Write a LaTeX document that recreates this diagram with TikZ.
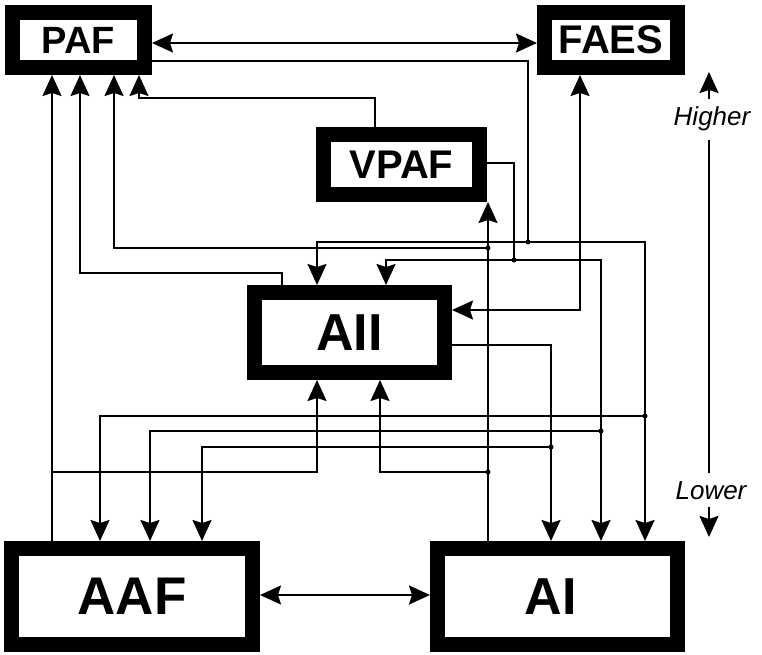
\documentclass[tikz,border=0pt]{standalone}
\usepackage{fontspec}
\setmainfont{Liberation Sans}
\usetikzlibrary{arrows.meta,calc}
\begin{document}
\begin{tikzpicture}[x=1pt,y=-1pt,
  box/.style={draw=black,line width=15pt,fill=white,inner sep=0pt,outer sep=7.5pt},
  wire/.style={line width=2pt,line join=miter},
  arr/.style={wire,-{Stealth[length=21pt,width=19pt,inset=3pt]}},
  darr/.style={wire,{Stealth[length=21pt,width=19pt,inset=3pt]}-{Stealth[length=21pt,width=19pt,inset=3pt]}},
  jdot/.style={circle,fill=black,inner sep=0pt,minimum size=5pt},
  lvl/.style={font=\fontsize{26}{28}\selectfont\itshape,inner sep=8pt,anchor=base}]
\fill[white] (0,0) rectangle (762,655);
\useasboundingbox (0,0) rectangle (762,655);

% boxes
\node[box,minimum width=132pt,minimum height=55pt,font=\fontsize{38}{40}\selectfont\bfseries] (PAF) at (78.5,40) {PAF};
\node[box,minimum width=133pt,minimum height=55pt,font=\fontsize{40}{42}\selectfont\bfseries] (FAES) at (611,40) {FAES};
\node[box,minimum width=156pt,minimum height=60pt,font=\fontsize{40}{42}\selectfont\bfseries] (VPAF) at (401.5,164.5) {VPAF};
\node[box,minimum width=190pt,minimum height=80pt,font=\fontsize{52}{54}\selectfont\bfseries] (AII) at (349.5,332.5) {AII};
\node[box,minimum width=241pt,minimum height=96pt,font=\fontsize{53}{55}\selectfont\bfseries] (AAF) at (132,596.5) {AAF};
\node[box,minimum width=240pt,minimum height=96pt,font=\fontsize{52}{54}\selectfont\bfseries] (AI) at (557.5,596.5) {\hspace*{-14pt}AI};

% level labels
\node[lvl] (hi) at (712,126) {Higher};
\node[lvl] (lo) at (711,499) {Lower};
\coordinate (hiTip) at (709,72);
\coordinate (loTip) at (709,537);
\draw[arr] (hi.north -| hiTip) -- (hiTip);
\draw[wire] (hi.south -| hiTip) -- (lo.north -| hiTip);
\draw[arr] (lo.south -| hiTip) -- (loTip);

% junctions
\coordinate (J1) at (528,242);
\coordinate (J2) at (645,416);
\coordinate (J3) at (514,260);
\coordinate (J4) at (601,431);
\coordinate (J5) at (488,248);
\coordinate (J6) at (488,472);
\coordinate (J7) at (52,472);
\coordinate (J8) at (551,447);

% PAF <-> FAES
\draw[darr] (PAF.east |- 0,43) -- (FAES.west |- 0,43);

% PAF -> AII, AI, AAF
\draw[wire] (PAF.east |- 0,61) -| (J1);
\draw[arr] (J1) -| (317,0 |- AII.north);
\draw[arr] (J1) -| (645,0 |- AI.north);
\draw[arr] (J2) -| (100,0 |- AAF.north);

% FAES <-> AII
\draw[darr] (580,0 |- FAES.south) |- (AII.east |- 0,310);

% VPAF -> PAF
\draw[arr] (375,0 |- VPAF.north) |- (139,98) -- (139,0 |- PAF.south);

% VPAF -> AII, AI, AAF
\draw[wire] (VPAF.east |- 0,163) -| (J3);
\draw[arr] (J3) -| (386,0 |- AII.north);
\draw[arr] (J3) -| (601,0 |- AI.north);
\draw[arr] (J4) -| (150,0 |- AAF.north);

% AI -> VPAF, PAF, AII
\draw[arr] (488,0 |- AI.north) -- (488,0 |- VPAF.south);
\draw[arr] (J5) -| (114,0 |- PAF.south);
\draw[arr] (J6) -| (380,0 |- AII.south);

% AAF -> PAF, AII
\draw[arr] (52,0 |- AAF.north) -- (52,0 |- PAF.south);
\draw[arr] (J7) -| (317,0 |- AII.south);

% AII -> PAF
\draw[arr] (282,0 |- AII.north) |- (80,273) -- (80,0 |- PAF.south);

% AII -> AI, AAF
\draw[arr] (AII.east |- 0,345) -| (551,0 |- AI.north);
\draw[arr] (J8) -| (202,0 |- AAF.north);

% AAF <-> AI
\draw[darr] (AAF.east |- 0,595) -- (AI.west |- 0,595);

% junction dots
\foreach \j in {J1,J2,J3,J4,J5,J6,J8} \node[jdot] at (\j) {};
\end{tikzpicture}
\end{document}
